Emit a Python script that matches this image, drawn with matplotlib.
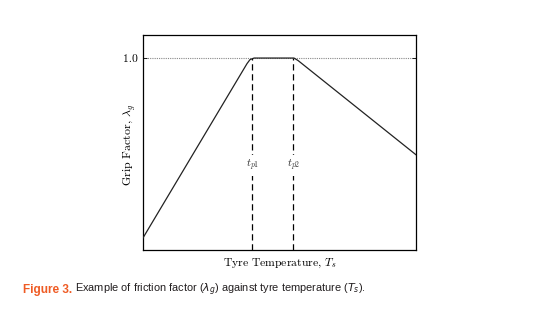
import matplotlib
matplotlib.use('Agg')
import matplotlib.pyplot as plt

plt.rcParams['font.family'] = 'serif'
plt.rcParams['font.serif'] = ['cmr10', 'DejaVu Serif']
plt.rcParams['mathtext.fontset'] = 'cm'
plt.rcParams['axes.formatter.use_mathtext'] = True

# curve (arbitrary temperature units, 0..100)
temp = [0, 38.1, 39.2, 40.7, 55.3, 56.8, 100]
grip = [0.063, 0.971, 0.992, 1.0, 1.0, 0.987, 0.496]
t_peaks = [40.1, 55.1]
peak_labels = ['$t_{p1}$', '$t_{p2}$']
ytick_vals = [1.0]
ytick_labels = ['1.0']

fig = plt.figure(figsize=(5.5, 3.23), dpi=100)
ax = fig.add_axes([0.26, 0.226, 0.4964, 0.6656])

ax.axhline(1.0, color='#888888', lw=0.8, ls=(0, (1, 1)), zorder=1)
ax.plot(temp, grip, color='#222222', lw=0.9, zorder=3)
for tp, lab in zip(t_peaks, peak_labels):
    ax.plot([tp, tp], [0, 1.0], color='black', lw=0.9, ls=(0, (5, 3)), zorder=2)
    ax.text(tp, 0.44, lab, ha='center', va='center', fontsize=8,
            color='#333333', zorder=4,
            bbox=dict(facecolor='white', edgecolor='none', pad=2))

ax.set_xlim(0, 100)
ax.set_ylim(0, 1.12)
ax.set_xticks([])
ax.set_yticks(ytick_vals)
ax.set_yticklabels(ytick_labels, fontsize=8.3)
ax.tick_params(axis='y', direction='in', length=3, width=0.6, right=True, pad=4)
for s in ax.spines.values():
    s.set_linewidth(0.9)

ax.set_xlabel('Tyre Temperature, $T_s$', fontsize=8.4, labelpad=5)
ax.set_ylabel(r'Grip Factor, $\lambda_g$', fontsize=8.6)
ax.yaxis.set_label_coords(-0.018, 0.49)

# caption
cap_font = ['Liberation Sans', 'DejaVu Sans']
t1 = fig.text(0.042, 0.102, 'Figure 3.', color='#EF5B24', fontsize=8.5,
              fontweight='bold', family=cap_font, va='center')
fig.canvas.draw()
bb = t1.get_window_extent(renderer=fig.canvas.get_renderer())
x2 = (bb.x1 + 3) / fig.bbox.width
fig.text(x2, 0.102,
         r'Example of friction factor ($\lambda_g$) against tyre temperature ($T_s$).',
         color='#231F20', fontsize=7.9, family=cap_font, va='center',
         math_fontfamily='dejavusans')

fig.savefig('out.png', dpi=100)
